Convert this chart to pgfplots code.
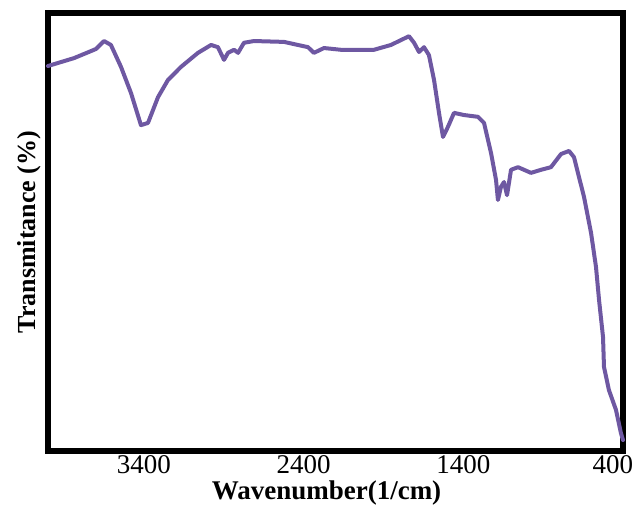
\documentclass[border=0pt]{standalone}
\usepackage{pgfplots}
\pgfplotsset{compat=1.18}
\usepackage{fontspec}
\setmainfont{Liberation Serif}
\definecolor{ftir}{RGB}{110,88,162}

\begin{document}
\begin{tikzpicture}[x=1pt,y=1pt]
\useasboundingbox (-48pt,-55pt) rectangle (587pt,451pt);
\begin{axis}[
  at={(0pt,0pt)}, anchor=south west,
  scale only axis,
  width=575pt, height=438pt,
  x dir=reverse,
  xmin=400, xmax=4000,
  ymin=0, ymax=100,
  axis line style={line width=5.5pt, black},
  xtick={3400,2400,1400},
  xticklabels={3400,2400,1400},
  extra x ticks={400},
  extra x tick labels={400},
  extra x tick style={xticklabel style={xshift=-10pt}},
  ytick=\empty,
  major tick length=0pt,
  xticklabel style={font=\fontsize{27}{29}\selectfont, inner sep=0pt, yshift=-4pt},
  /pgf/number format/assume math mode=true,
  xlabel={\textbf{Wavenumber(1/cm)}},
  xlabel style={font=\fontsize{27}{29}\selectfont, inner sep=0pt,
    at={(axis description cs:0.5,0)}, anchor=north, yshift=-30pt, xshift=-9pt},
  ylabel={\textbf{Transmitance (\%)}},
  ylabel style={font=\fontsize{26}{28}\selectfont, inner sep=0pt,
    at={(axis description cs:0,0.5)}, anchor=south, yshift=7pt},
  clip=false,
]
\addplot[ftir, line width=4pt, line join=round, line cap=round] coordinates {
(4000,87.9) (3837,89.7) (3731,91.3) (3699,91.8) (3649,93.6) (3606,92.7)
(3543,87.7) (3480,81.7) (3418,74.4) (3374,74.9) (3311,80.8) (3249,84.7)
(3167,87.7) (3061,90.9) (2979,92.7) (2936,92.2) (2898,89.3) (2873,90.9)
(2835,91.6) (2810,90.9) (2773,93.2) (2710,93.6) (2522,93.4) (2435,92.7)
(2372,92.2) (2335,90.9) (2272,92.0) (2166,91.6) (2122,91.6) (1959,91.6)
(1853,92.7) (1740,94.7) (1708,93.2) (1677,91.1) (1646,92.2) (1615,90.4)
(1583,84.7) (1552,77.2) (1527,71.7) (1496,74.0) (1458,77.2) (1395,76.7)
(1308,76.3) (1270,74.9) (1226,68.0) (1195,61.9) (1183,57.3) (1164,60.3)
(1145,61.4) (1126,58.4) (1101,64.2) (1057,64.8) (976,63.5) (913,64.2)
(851,64.8) (788,67.8) (738,68.5) (707,67.1) (644,58.0) (600,49.8)
(569,42.0) (550,34.5) (525,26.0) (519,19.2) (488,13.9) (444,9.4)
(413,4.1) (400,2.5)
};
\end{axis}
\end{tikzpicture}
\end{document}
